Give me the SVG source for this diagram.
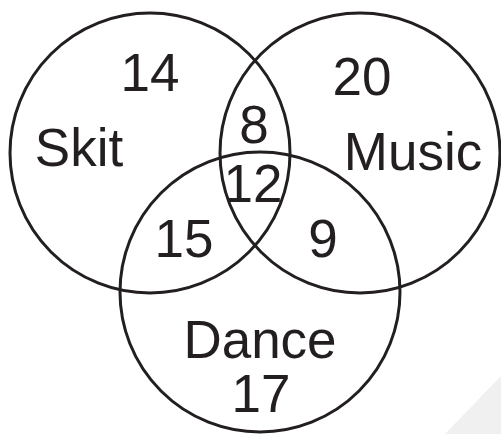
<svg xmlns="http://www.w3.org/2000/svg" width="501" height="434" viewBox="0 0 501 434">
<style>
.c{fill:none;stroke:#231f20;stroke-width:3}
.t{font-family:"Liberation Sans",Arial,sans-serif;font-size:53px;fill:#231f20;text-anchor:middle}
</style>
<rect width="501" height="434" fill="#ffffff"/>
<polygon points="445,434 501,376 501,434" fill="#f0f0f0"/>
<g id="connectors"></g>
<g id="skit">
<circle class="c" cx="150" cy="153" r="140"/>
<text class="t" x="150" y="91">14</text>
<text class="t" x="79" y="166">Skit</text>
</g>
<g id="music">
<circle class="c" cx="360" cy="153" r="140"/>
<text class="t" x="362" y="95">20</text>
<text class="t" x="413" y="170">Music</text>
</g>
<g id="dance">
<circle class="c" cx="260" cy="292" r="140"/>
<text class="t" x="260" y="358">Dance</text>
<text class="t" x="261" y="412">17</text>
</g>
<g id="overlaps">
<text class="t" x="254" y="143">8</text>
<text class="t" x="253" y="202">12</text>
<text class="t" x="184" y="257">15</text>
<text class="t" x="323" y="257">9</text>
</g>
</svg>
